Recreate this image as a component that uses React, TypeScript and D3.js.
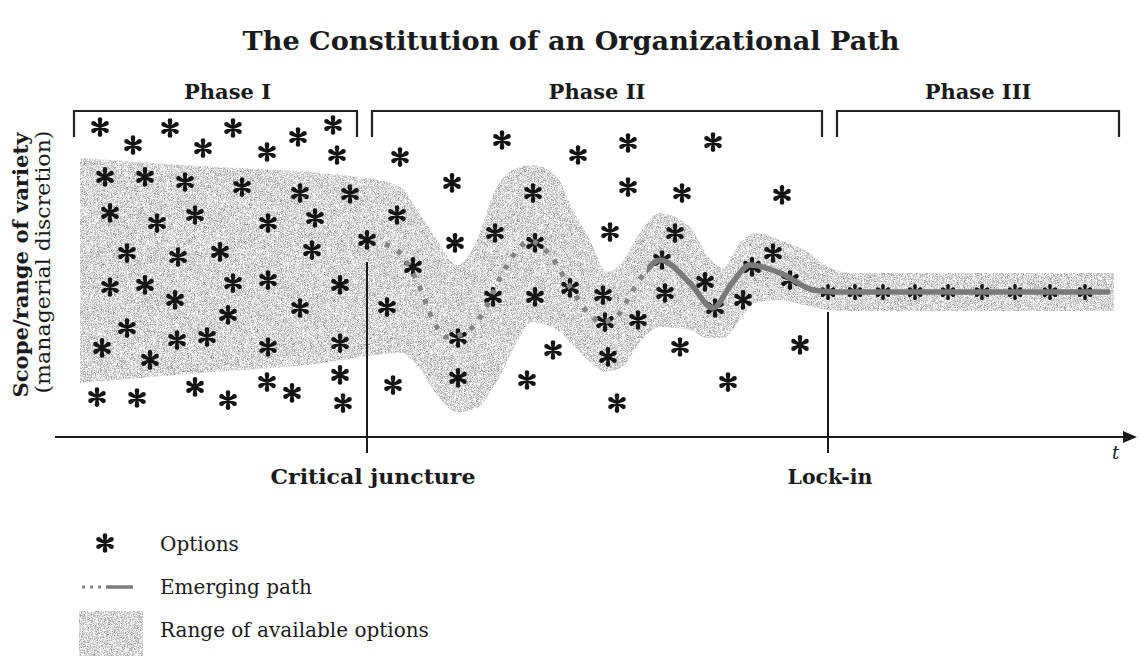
import React from 'react';
import * as d3 from 'd3';

const W = 1141;
const H = 660;

const TITLE = 'The Constitution of an Organizational Path';
const Y_LABEL = 'Scope/range of variety';
const Y_SUBLABEL = '(managerial discretion)';
const X_LABEL = 't';

// Phase brackets (t units)
const phaseLabels = ['Phase I', 'Phase II', 'Phase III'];
const phaseStart = [-0.6, 29.2, 75.7];
const phaseEnd = [27.7, 74.2, 103.9];

// Junctures
const junctureLabels = ['Critical juncture', 'Lock-in'];
const junctureT = [28.7, 74.8];
const junctureTop = [58.3, 41.7];

// Range of available options (band): t, upper, lower
const bandT = [0, 12, 25, 28.7, 32, 33.7, 35.7, 37.7, 39.7, 41.5, 43.3, 45.3, 47.7, 49.3, 51, 52.7, 54.2, 56, 58, 61, 62.7, 64.3, 66, 67.5, 70, 72.5, 75, 77, 103.4];
const bandUpper = [93, 90.3, 87.7, 86.3, 83.3, 75.7, 65.7, 57.3, 65.7, 82.3, 89, 90.7, 86.7, 75.7, 65.7, 55, 58.3, 68.3, 74.7, 70, 60.7, 56.3, 64.7, 68, 65.7, 62.3, 56.3, 54.7, 54.7];
const bandLower = [18, 21.3, 25, 27, 28, 24, 14, 8.3, 9.7, 17.3, 29, 38.3, 35.7, 30.7, 25, 21.7, 23.3, 31.7, 36.7, 35.7, 33, 33, 39, 44.7, 45.7, 44, 42.3, 42, 42];

// Emerging path
const pathT = [30.5, 32, 34, 35.2, 36.7, 38.5, 40.3, 42, 43.5, 45, 47, 49, 51, 52.2, 53.7, 55.3, 56.7, 58, 61, 63.3, 65.2, 67, 70, 73.3, 75.5, 80, 102.8];
const pathV = [64.3, 61.3, 49.7, 39.7, 33.3, 34.7, 41.3, 53, 61.3, 65.3, 60.7, 50, 40.7, 38.3, 40.3, 49, 55.7, 59, 51.3, 43, 51.3, 57.3, 54.7, 49, 48.3, 48.3, 48.3];
const PATH_SOLID_FROM = 56.7;

// Options (asterisks) [t, v]
const phase1Options: [number, number][] = [
  [2.0, 103.3], [5.3, 97.3], [9.0, 103.0], [12.3, 96.3], [15.3, 103.0], [18.7, 95.0], [21.8, 100.0], [25.3, 104.0], [25.7, 94.0],
  [2.5, 86.7], [6.5, 86.7], [10.5, 85.0], [16.2, 83.3], [22.0, 81.3], [27.0, 81.0],
  [3.0, 74.7], [7.7, 71.3], [11.5, 74.0], [18.8, 71.3], [23.5, 73.0],
  [4.7, 61.3], [9.8, 60.0], [14.0, 61.7], [23.2, 62.3],
  [3.0, 50.0], [6.5, 50.7], [9.5, 45.7], [15.3, 51.3], [18.8, 52.3], [26.0, 50.7],
  [14.8, 40.7], [22.0, 43.0],
  [4.7, 36.3], [9.7, 32.3], [12.7, 33.3], [2.2, 29.7], [7.0, 25.7], [18.8, 30.0], [26.0, 31.3],
  [26.0, 20.7], [11.5, 16.7], [18.7, 18.3], [21.2, 14.7], [1.7, 13.3], [5.7, 13.0], [14.8, 12.3], [26.3, 11.3],
];
const criticalOption: [number, number][] = [[28.7, 65.7]];
const phase2Options: [number, number][] = [
  [32.0, 93.3], [42.2, 99.0], [49.8, 94.0], [54.8, 98.0], [63.3, 98.3],
  [37.2, 84.7], [45.3, 81.3], [54.8, 83.3], [60.2, 81.3], [70.2, 80.7],
  [31.7, 74.0], [41.5, 68.0], [37.5, 64.7], [45.5, 64.7], [53.0, 68.3], [59.5, 68.0],
  [33.3, 56.7], [58.2, 59.0], [69.3, 61.3], [67.2, 56.7],
  [41.3, 46.7], [45.5, 46.7], [49.0, 49.7], [52.3, 47.3], [58.5, 48.0], [62.5, 51.7], [66.3, 45.7], [71.0, 52.3],
  [30.7, 43.3], [37.8, 33.0], [52.5, 38.3], [55.8, 39.0], [63.5, 43.0],
  [47.3, 29.0], [52.8, 26.7], [60.0, 30.0], [72.0, 30.7],
  [37.8, 19.7], [44.7, 19.0], [31.3, 17.3], [64.8, 18.3], [53.7, 11.3],
];
const lockInT = [74.8, 77.5, 80.3, 83.5, 86.8, 90.2, 93.5, 97.0, 100.5];
const LOCK_IN_V = 48.3;

const legendLabels = ['Options', 'Emerging path', 'Range of available options'];

const FONT = '"DejaVu Serif", serif';
const INK = '#1a1a1a';

// Six-armed asterisk with teardrop ends, as a d3 symbol type
const teardropAsterisk = {
  draw(ctx: any, size: number) {
    const L = Math.sqrt(size) * 0.5;
    const rt = L * 0.31;
    const w0 = L * 0.15;
    for (let k = 0; k < 6; k++) {
      const a = (k * Math.PI) / 3;
      const ux = Math.sin(a);
      const uy = -Math.cos(a);
      const px = Math.cos(a);
      const py = Math.sin(a);
      const tx = ux * L;
      const ty = uy * L;
      ctx.moveTo(-px * w0, -py * w0);
      ctx.lineTo(tx - px * rt, ty - py * rt);
      ctx.lineTo(tx + px * rt, ty + py * rt);
      ctx.lineTo(px * w0, py * w0);
      ctx.closePath();
      ctx.moveTo(tx + rt, ty);
      ctx.arc(tx, ty, rt, 0, Math.PI * 2);
      ctx.closePath();
    }
  },
};

export default function App() {
  const x = d3.scaleLinear().domain([0, 100]).range([80, 1080]);
  const y = d3.scaleLinear().domain([0, 100]).range([437, 137]);

  const bandData = bandT.map((t, i) => [t, bandUpper[i], bandLower[i]]);
  const area = d3
    .area<number[]>()
    .x((d) => x(d[0]))
    .y0((d) => y(d[2]))
    .y1((d) => y(d[1]))
    .curve(d3.curveMonotoneX);

  const pathData = pathT.map((t, i) => [t, pathV[i]]);
  const line = d3
    .line<number[]>()
    .x((d) => x(d[0]))
    .y((d) => y(d[1]))
    .curve(d3.curveMonotoneX);

  const star = d3.symbol().type(teardropAsterisk as any).size(225)() || '';
  const starSmall = d3.symbol().type(teardropAsterisk as any).size(150)() || '';

  const splitX = x(PATH_SOLID_FROM);
  const axisY = y(0);
  const axisX0 = x(-2.5);
  const axisX1 = x(105.7);

  const bracketTop = 111;
  const bracketBottom = 137;

  const allOptions = [...phase1Options, ...criticalOption, ...phase2Options];
  const pathD = line(pathData) || '';

  return (
    <svg
      width={W}
      height={H}
      viewBox={`0 0 ${W} ${H}`}
      style={{ position: 'absolute', left: 0, top: 0, background: '#fff' }}
    >
      <defs>
        <filter id="stipple" x="0%" y="0%" width="100%" height="100%" colorInterpolationFilters="sRGB">
          <feTurbulence type="fractalNoise" baseFrequency="1.7" numOctaves={1} seed={7} result="n" />
          <feColorMatrix in="n" type="saturate" values="0" result="g" />
          <feComponentTransfer in="g" result="c">
            <feFuncR type="linear" slope={1.35} intercept={0.18} />
            <feFuncG type="linear" slope={1.35} intercept={0.18} />
            <feFuncB type="linear" slope={1.35} intercept={0.18} />
            <feFuncA type="linear" slope={0} intercept={1} />
          </feComponentTransfer>
          <feComposite in="c" in2="SourceGraphic" operator="in" />
        </filter>
        <clipPath id="dottedClip">
          <rect x={0} y={0} width={splitX} height={H} />
        </clipPath>
        <clipPath id="solidClip">
          <rect x={splitX} y={0} width={W - splitX} height={H} />
        </clipPath>
      </defs>

      <rect x={0} y={0} width={W} height={H} fill="#fff" />

      {/* Title */}
      <text
        x={571}
        y={50}
        textAnchor="middle"
        fontFamily={FONT}
        fontWeight="bold"
        fontSize={26}
        fill={INK}
        textLength={657}
        lengthAdjust="spacingAndGlyphs"
      >
        {TITLE}
      </text>

      {/* Y axis label */}
      <text
        transform="translate(28,265) rotate(-90)"
        textAnchor="middle"
        fontFamily={FONT}
        fontWeight="bold"
        fontSize={20}
        fill={INK}
        textLength={265}
        lengthAdjust="spacingAndGlyphs"
      >
        {Y_LABEL}
      </text>
      <text
        transform="translate(50,262) rotate(-90)"
        textAnchor="middle"
        fontFamily={FONT}
        fontSize={20}
        fill={INK}
        textLength={263}
        lengthAdjust="spacingAndGlyphs"
      >
        {Y_SUBLABEL}
      </text>

      {/* Phase brackets */}
      {phaseLabels.map((label, i) => {
        const x0 = x(phaseStart[i]);
        const x1 = x(phaseEnd[i]);
        const cx = i === 0 ? (x0 + x1) / 2 + 12 : (x0 + x1) / 2;
        return (
          <g key={label}>
            <path
              d={`M${x0},${bracketBottom}V${bracketTop}H${x1}V${bracketBottom}`}
              fill="none"
              stroke="#222"
              strokeWidth={2.2}
            />
            <text
              x={cx}
              y={99}
              textAnchor="middle"
              fontFamily={FONT}
              fontWeight="bold"
              fontSize={21}
              fill={INK}
            >
              {label}
            </text>
          </g>
        );
      })}

      {/* Band */}
      <path d={area(bandData) || ''} fill="#cccccc" filter="url(#stipple)" />

      {/* Options */}
      {allOptions.map((d, i) => (
        <path key={`o${i}`} d={star} transform={`translate(${x(d[0])},${y(d[1])})`} fill="#141414" />
      ))}
      {lockInT.map((t, i) => (
        <path key={`l${i}`} d={starSmall} transform={`translate(${x(t)},${y(LOCK_IN_V)})`} fill="#141414" />
      ))}

      {/* Emerging path */}
      <path
        d={pathD}
        fill="none"
        stroke="#858585"
        strokeWidth={5}
        strokeDasharray="5 9"
        clipPath="url(#dottedClip)"
      />
      <path
        d={pathD}
        fill="none"
        stroke="#7a7a7a"
        strokeWidth={5.5}
        strokeLinecap="round"
        clipPath="url(#solidClip)"
      />

      {/* Juncture lines */}
      {junctureLabels.map((label, i) => (
        <g key={label}>
          <line
            x1={x(junctureT[i])}
            x2={x(junctureT[i])}
            y1={y(junctureTop[i])}
            y2={axisY + 16}
            stroke="#1a1a1a"
            strokeWidth={2}
          />
          <text
            x={x(junctureT[i]) + (i === 0 ? 6 : 2)}
            y={axisY + 47}
            textAnchor="middle"
            fontFamily={FONT}
            fontWeight="bold"
            fontSize={21}
            fill={INK}
            textLength={i === 0 ? 205 : 85}
            lengthAdjust="spacingAndGlyphs"
          >
            {label}
          </text>
        </g>
      ))}

      {/* X axis */}
      <line x1={axisX0} x2={axisX1 - 10} y1={axisY} y2={axisY} stroke="#1a1a1a" strokeWidth={2.2} />
      <path
        d={`M${axisX1},${axisY}L${axisX1 - 14},${axisY - 6}L${axisX1 - 14},${axisY + 6}Z`}
        fill="#1a1a1a"
      />
      <text x={axisX1 - 25} y={axisY + 22} fontFamily={FONT} fontStyle="italic" fontSize={18} fill={INK}>
        {X_LABEL}
      </text>

      {/* Legend */}
      <g>
        <path d={star} transform="translate(105,543)" fill="#141414" />
        <line x1={82} x2={106} y1={587} y2={587} stroke="#8a8a8a" strokeWidth={3} strokeDasharray="3 5" />
        <line x1={106} x2={133} y1={587} y2={587} stroke="#7c7c7c" strokeWidth={3.5} />
        <rect x={79} y={611} width={64} height={45} fill="#cccccc" filter="url(#stipple)" />
        {legendLabels.map((label, i) => (
          <text key={label} x={160} y={551 + i * 43} fontFamily={FONT} fontSize={20} fill={INK}>
            {label}
          </text>
        ))}
      </g>
    </svg>
  );
}
